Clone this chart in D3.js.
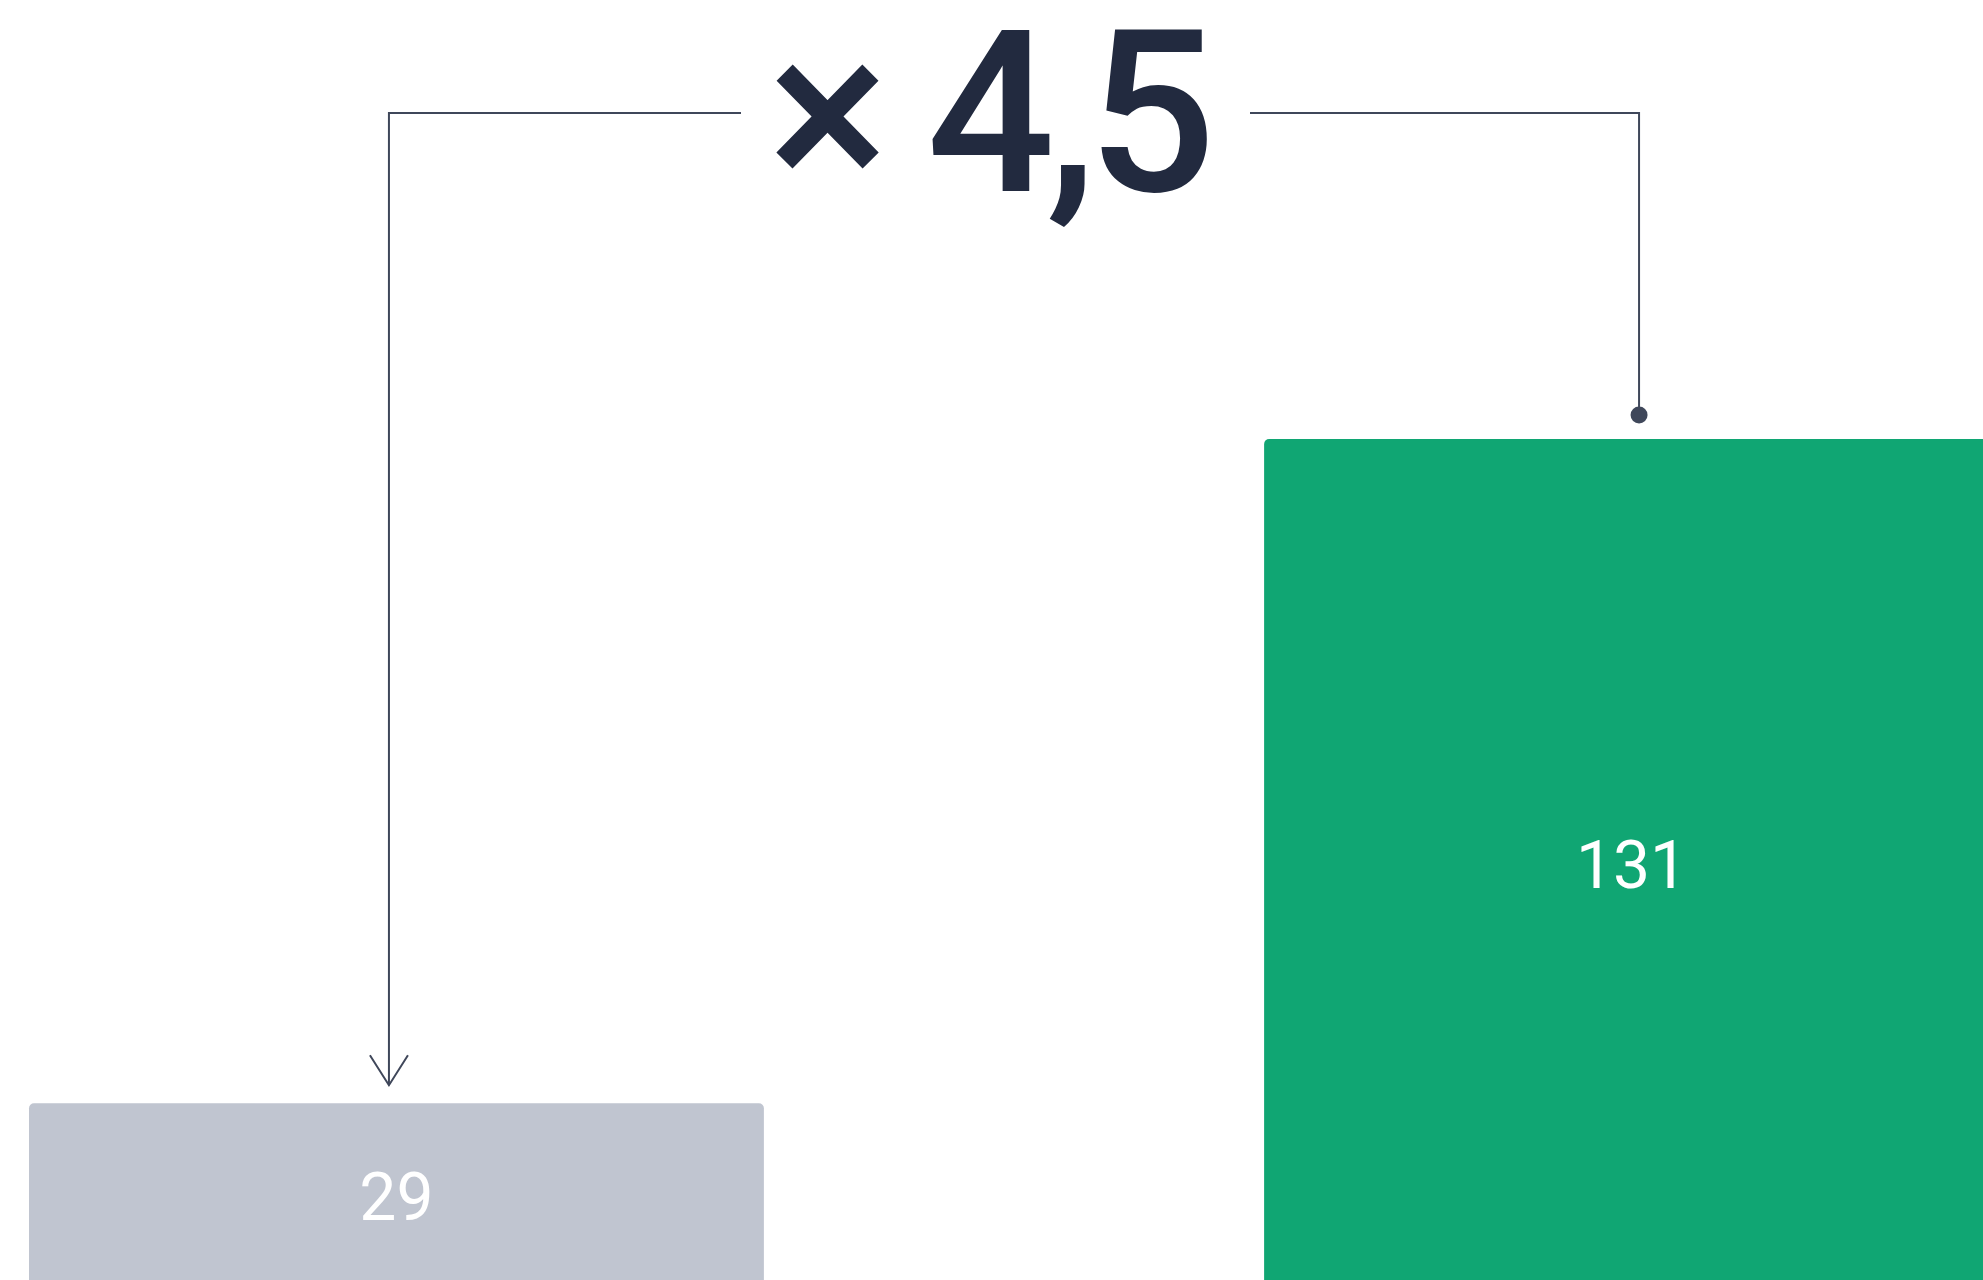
<!DOCTYPE html>
<html>
<head>
<meta charset="utf-8">
<script src="https://cdn.jsdelivr.net/npm/d3@7"></script>
<style>
  html, body { margin: 0; padding: 0; background: #fff; }
  svg { display: block; font-family: Roboto, "Noto Sans", sans-serif; }
</style>
</head>
<body>
<svg id="chart" width="1983" height="1280"></svg>
<script>
// data
const categories = ["before", "after"]
const values = [29, 131]
const colors = ["#c0c5d0", "#10a673"]

const width = 1983
const height = 1280
const svg = d3.select("#chart")

// scales
const x = d3.scaleBand()
  .domain(categories)
  .range([29, 1999])
  .paddingInner(0.405)
const y = d3.scaleLinear()
  .domain([0, d3.max(values)])
  .range([1292, 439])

const rows = categories.map((c, i) => ({ cat: c, value: values[i], color: colors[i] }))

// bars
svg.append("g").selectAll("rect").data(rows).join("rect")
  .attr("x", d => x(d.cat))
  .attr("y", d => y(d.value))
  .attr("width", x.bandwidth())
  .attr("height", d => y(0) - y(d.value) + 10)
  .attr("rx", 5)
  .attr("fill", d => d.color)

// value labels in the middle of each bar
svg.append("g").selectAll("text").data(rows).join("text")
  .attr("x", d => x(d.cat) + x.bandwidth() / 2)
  .attr("y", d => (y(d.value) + y(0)) / 2)
  .attr("text-anchor", "middle")
  .attr("dominant-baseline", "central")
  .attr("fill", "#fff")
  .attr("font-size", 66)
  .attr("font-weight", 400)
  .text(d => d.value)

// ratio annotation
const ratio = values[1] / values[0]
const ratioText = "× " + d3.format(".1f")(ratio).replace(".", ",")
const lineY = 113
const ink = "#3f475a"
const xa = x(categories[0]) + x.bandwidth() / 2 - 7.5
const xb = x(categories[1]) + x.bandwidth() / 2 + 7.5
const midX = 987.5

svg.append("text")
  .attr("x", midX)
  .attr("y", 191)
  .attr("text-anchor", "middle")
  .attr("fill", "#222a3f")
  .attr("font-size", 226)
  .attr("font-weight", 500)
  .attr("letter-spacing", -9)
  .text(ratioText)

const tipY = y(values[0]) - 18
svg.append("path")
  .attr("d", `M${xa},${tipY}V${lineY}H741`)
  .attr("fill", "none").attr("stroke", ink).attr("stroke-width", 2)
svg.append("path")
  .attr("d", `M${xa - 19},${tipY - 30}L${xa},${tipY}L${xa + 19},${tipY - 30}`)
  .attr("fill", "none").attr("stroke", ink).attr("stroke-width", 2)

const dotY = y(values[1]) - 24
svg.append("path")
  .attr("d", `M1250,${lineY}H${xb}V${dotY}`)
  .attr("fill", "none").attr("stroke", ink).attr("stroke-width", 2)
svg.append("circle")
  .attr("cx", xb).attr("cy", dotY).attr("r", 8.5)
  .attr("fill", ink)
</script>
</body>
</html>
